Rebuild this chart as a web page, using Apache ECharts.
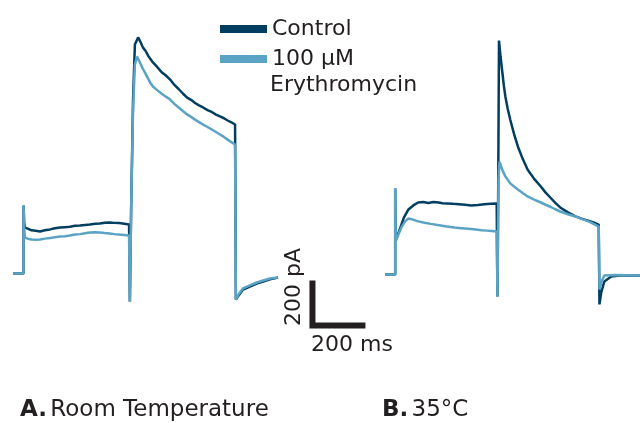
<!DOCTYPE html>
<html>
<head>
<meta charset="utf-8">
<script src="https://cdn.jsdelivr.net/npm/echarts@6/dist/echarts.min.js"></script>
<style>
  html, body { margin: 0; padding: 0; background: #fff; }
  #chart_view { width: 640px; height: 423px; }
</style>
</head>
<body>
<div id="chart_view"></div>
<script>
// traces: [time (ms), current (pA)]
var seriesNames = ['Control', '100 µM Erythromycin'];
var seriesColors = ['#023e60', '#5ba3c5'];
var panelTitles = ['Room Temperature', '35°C'];
var panelLetters = ['A.', 'B.'];

// A. room temperature
var controlA = [
    [0, 0], [40, 0], [40, 302], [42, 230], [45, 204], [58, 198], [70, 192], [86, 190], [102, 187],
    [120, 192], [140, 196], [158, 201], [177, 204], [196, 206], [215, 208], [234, 212], [253, 213],
    [272, 216], [290, 218], [310, 221], [328, 222], [346, 226], [365, 227], [382, 225], [400, 224],
    [420, 221], [438, 218], [440, 218], [441, -124], [446, 300], [453, 773], [460, 1018], [472, 1049],
    [480, 1032], [490, 1005], [500, 990], [510, 968], [518, 954], [528, 938], [544, 918], [560, 896],
    [577, 880], [593, 862], [609, 838], [625, 820], [641, 800], [657, 782], [672, 772], [687, 758],
    [702, 747], [717, 738], [734, 726], [750, 718], [766, 706], [781, 698], [796, 690], [810, 680],
    [824, 672], [838, 662], [840, 660], [841, -116], [850, -100], [868, -71], [894, -58], [920, -45],
    [944, -36], [970, -26], [1000, -18]
];
var erythroA = [
    [0, 0], [40, 0], [40, 302], [42, 200], [45, 160], [58, 154], [70, 151], [86, 150], [102, 151],
    [120, 155], [140, 158], [158, 161], [177, 164], [196, 166], [215, 169], [234, 173], [253, 175],
    [272, 179], [290, 182], [310, 183], [328, 182], [346, 180], [365, 178], [382, 175], [400, 173],
    [420, 171], [438, 169], [440, 169], [441, -124], [446, 300], [453, 729], [460, 929], [468, 964],
    [478, 940], [490, 910], [500, 888], [510, 866], [518, 848], [528, 831], [544, 815], [560, 800],
    [577, 786], [593, 773], [609, 754], [625, 738], [641, 722], [657, 707], [672, 696], [687, 684],
    [702, 673], [717, 662], [734, 651], [750, 640], [766, 629], [781, 618], [796, 607], [810, 595],
    [824, 584], [838, 573], [840, 573], [841, -116], [850, -95], [868, -66], [894, -53], [920, -40],
    [944, -31], [970, -22], [1000, -18]
];

// B. 35 °C
var controlB = [
    [0, 0], [40, 0], [40, 382], [42, 150], [43, 142], [55, 191], [74, 253], [92, 289],
    [111, 307], [130, 320], [150, 322], [170, 318], [190, 322], [210, 320], [226, 317], [243, 316],
    [266, 314], [290, 312], [314, 310], [338, 307], [364, 309], [390, 312], [414, 314], [438, 316],
    [440, 316], [441, -98], [444, 400], [447, 1040], [453, 970], [460, 900], [466, 840], [472, 791],
    [481, 738], [491, 689], [506, 625], [521, 569], [540, 514], [559, 467], [585, 425], [611, 391],
    [630, 364], [650, 340], [668, 318], [687, 298], [717, 276], [747, 258], [773, 247], [800, 238],
    [820, 230], [838, 222], [840, 222], [841, -133], [848, -80], [860, -31], [887, -9], [920, -5],
    [962, -4], [1000, -4]
];
var erythroB = [
    [0, 0], [40, 0], [40, 382], [42, 150], [43, 142], [66, 213], [80, 238], [92, 249], [110, 244],
    [130, 236], [155, 230], [180, 225], [212, 219], [243, 213], [272, 209], [300, 206], [328, 203],
    [356, 200], [378, 197], [400, 195], [420, 193], [438, 191], [440, 191], [441, -98], [445, 420],
    [449, 502], [460, 465], [472, 436], [491, 405], [506, 391], [521, 378], [540, 362], [559, 347],
    [585, 333], [611, 320], [630, 310], [650, 300], [668, 290], [687, 280], [717, 268], [747, 258],
    [773, 246], [800, 235], [820, 224], [838, 213], [840, 213], [841, -67], [850, -30], [860, -4],
    [900, -2], [1000, -4]
];

// scale bar: 200 ms x 200 pA
var scaleBar = [[1130, -31], [1130, -231], [1330, -231]];
var scaleLabels = ['200 pA', '200 ms'];

var myChart = echarts.init(document.getElementById('chart_view'));

var textColor = '#231f20';
var font = 'DejaVu Sans';

function trace(name, data, idx, color) {
    return {
        name: name,
        type: 'line',
        xAxisIndex: idx,
        yAxisIndex: idx,
        data: data,
        showSymbol: false,
        symbol: 'none',
        lineStyle: { color: color, width: 2.5 },
        itemStyle: { color: color }
    };
}

var panelRich = {
    b: { fontWeight: 'bold', fontFamily: font, fontSize: 23, fill: textColor },
    n: { fontFamily: font, fontSize: 23, fill: textColor }
};

var option = {
    animation: false,
    backgroundColor: '#fff',
    legend: {
        left: 215,
        top: 13,
        orient: 'vertical',
        itemWidth: 47,
        itemHeight: 8,
        itemGap: 8,
        icon: 'rect',
        data: seriesNames,
        formatter: function (name) {
            return name === seriesNames[1] ? '100 µM' : name;
        },
        textStyle: { fontFamily: font, fontSize: 22, color: textColor }
    },
    grid: [
        { left: 13, top: 26, width: 371, height: 315 },
        { left: 385, top: 27, width: 265, height: 315 }
    ],
    xAxis: [
        { type: 'value', gridIndex: 0, min: 0, max: 1400, show: false },
        { type: 'value', gridIndex: 1, min: 0, max: 1000, show: false }
    ],
    yAxis: [
        { type: 'value', gridIndex: 0, min: -300, max: 1100, show: false },
        { type: 'value', gridIndex: 1, min: -300, max: 1100, show: false }
    ],
    graphic: [
        { type: 'text', left: 270, top: 74, style: { text: 'Erythromycin', font: '22px "' + font + '"', fill: textColor } },
        { type: 'text', x: 294, y: 287, rotation: Math.PI / 2,
          style: { text: scaleLabels[0], font: '22px "' + font + '"', fill: textColor, align: 'center', verticalAlign: 'middle' } },
        { type: 'text', x: 352, y: 345,
          style: { text: scaleLabels[1], font: '22px "' + font + '"', fill: textColor, align: 'center', verticalAlign: 'middle' } },
        { type: 'text', left: 20, top: 399,
          style: { rich: panelRich, text: '{b|' + panelLetters[0] + '} {n|' + panelTitles[0] + '}' } },
        { type: 'text', left: 382, top: 399,
          style: { rich: panelRich, text: '{b|' + panelLetters[1] + '} {n|' + panelTitles[1] + '}' } }
    ],
    series: [
        trace(seriesNames[0], controlA, 0, seriesColors[0]),
        trace(seriesNames[1], erythroA, 0, seriesColors[1]),
        trace(seriesNames[0], controlB, 1, seriesColors[0]),
        trace(seriesNames[1], erythroB, 1, seriesColors[1]),
        {
            type: 'line',
            xAxisIndex: 0,
            yAxisIndex: 0,
            data: scaleBar,
            showSymbol: false,
            symbol: 'none',
            silent: true,
            lineStyle: { color: textColor, width: 6, cap: 'butt', join: 'miter' }
        }
    ]
};

myChart.setOption(option);
</script>
</body>
</html>
